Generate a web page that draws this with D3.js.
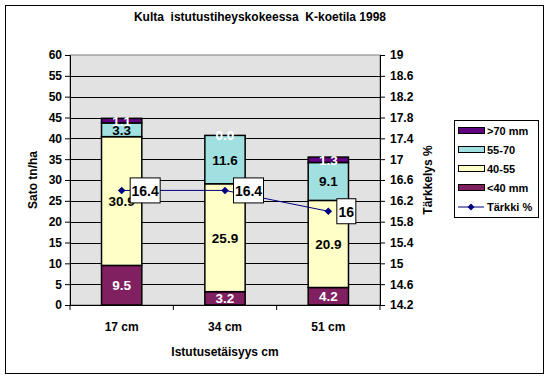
<!DOCTYPE html>
<html>
<head>
<meta charset="utf-8">
<script src="https://cdn.jsdelivr.net/npm/d3@7"></script>
<style>
  body { margin: 0; background: #fff; }
  text { font-family: Arial, "Liberation Sans", sans-serif; font-weight: bold; }
</style>
</head>
<body>
<div id="chart"></div>
<script>
// data
var spacings = ["17 cm", "34 cm", "51 cm"];
var lt40 = [9.5, 3.2, 4.2];
var s40_55 = [30.9, 25.9, 20.9];
var s55_70 = [3.3, 11.6, 9.1];
var gt70 = [1.1, 0.0, 1.3];
var starch = [16.4, 16.4, 16];
var leftTicks = [0, 5, 10, 15, 20, 25, 30, 35, 40, 45, 50, 55, 60];
var rightTicks = [14.2, 14.6, 15, 15.4, 15.8, 16.2, 16.6, 17, 17.4, 17.8, 18.2, 18.6, 19];

var W = 549, H = 380;
var m = {left: 70, right: 169, top: 55, bottom: 75};
var pw = W - m.left - m.right, ph = H - m.top - m.bottom;

var series = [
  {key: "lt40", name: "<40 mm", color: "#802060", text: "#fff"},
  {key: "s40_55", name: "40-55", color: "#ffffc8", text: "#000"},
  {key: "s55_70", name: "55-70", color: "#a0e0e0", text: "#000"},
  {key: "gt70", name: ">70 mm", color: "#600080", text: "#fff"}
];
var rows = spacings.map(function(c, i) {
  return {cat: c, lt40: lt40[i], s40_55: s40_55[i], s55_70: s55_70[i], gt70: gt70[i]};
});

var svg = d3.select("#chart").append("svg").attr("width", W).attr("height", H);
svg.append("rect").attr("x", 5.5).attr("y", 5.5).attr("width", 538).attr("height", 368)
  .attr("fill", "#fff").attr("stroke", "#000");

svg.append("text").attr("x", 260).attr("y", 21).attr("text-anchor", "middle")
  .style("font-size", "12px").style("white-space", "pre")
  .text("Kulta  istutustiheyskokeessa  K-koetila 1998");

var g = svg.append("g").attr("transform", "translate(" + m.left + "," + m.top + ")");

var x = d3.scaleBand().domain(spacings).range([0, pw]).paddingInner(0.61).paddingOuter(0.305);
var xb = d3.scaleBand().domain(spacings).range([0, pw]);
var y = d3.scaleLinear().domain([0, 60]).range([ph, 0]);
var y2 = d3.scaleLinear().domain([14.2, 19]).range([ph, 0]);

g.append("rect").attr("width", pw).attr("height", ph).attr("fill", "#e2e2e2")
  .attr("stroke", "#808080");

g.selectAll(".grid").data(leftTicks.slice(1, -1)).enter().append("line")
  .attr("x1", 0).attr("x2", pw)
  .attr("y1", function(d) { return Math.round(y(d)) + 0.5; })
  .attr("y2", function(d) { return Math.round(y(d)) + 0.5; })
  .attr("stroke", "#000");

// stacked bars
var stack = d3.stack().keys(series.map(function(s) { return s.key; }));
var layers = stack(rows);
layers.forEach(function(layer, li) {
  var s = series[li];
  g.selectAll(".seg" + li).data(layer).enter().append("rect")
    .attr("x", function(d) { return x(d.data.cat); })
    .attr("y", function(d) { return y(d[1]); })
    .attr("width", x.bandwidth())
    .attr("height", function(d) { return y(d[0]) - y(d[1]); })
    .attr("fill", s.color).attr("stroke", "#000").attr("stroke-width", 1.5);
});
layers.forEach(function(layer, li) {
  var s = series[li];
  g.selectAll(".lab" + li).data(layer).enter().append("text")
    .attr("x", function(d) { return x(d.data.cat) + x.bandwidth() / 2; })
    .attr("y", function(d) { return y((d[0] + d[1]) / 2) + 5; })
    .attr("text-anchor", "middle").style("font-size", "13.5px")
    .attr("fill", s.text)
    .text(function(d) { return d3.format(".1f")(d[1] - d[0]); });
});

// axes
var yAxis = g.append("g").call(d3.axisLeft(y).tickValues(leftTicks).tickSize(5).tickPadding(3));
var yAxis2 = g.append("g").attr("transform", "translate(" + pw + ",0)")
  .call(d3.axisRight(y2).tickValues(rightTicks).tickSize(5).tickPadding(5).tickFormat(d3.format("")));
var xAxis = g.append("g").attr("transform", "translate(0," + ph + ")")
  .call(d3.axisBottom(xb).tickSize(0).tickPadding(17));
[yAxis, yAxis2, xAxis].forEach(function(a) {
  a.selectAll("path").attr("stroke", "#000");
  a.selectAll("line").attr("stroke", "#000");
  a.selectAll("text").attr("fill", "#000").style("font-size", "12px");
  a.attr("font-family", null);
});
xAxis.selectAll(".sep").data([0, 1, 2, 3]).enter().append("line")
  .attr("x1", function(d) { return d * xb.bandwidth(); })
  .attr("x2", function(d) { return d * xb.bandwidth(); })
  .attr("y1", 0).attr("y2", 5).attr("stroke", "#000");

// starch line
var line = d3.line()
  .x(function(d, i) { return x(spacings[i]) + x.bandwidth() / 2; })
  .y(function(d) { return y2(d); });
g.append("path").datum(starch).attr("d", line).attr("fill", "none")
  .attr("stroke", "#000080").attr("stroke-width", 1);
var diamond = d3.symbol().type(d3.symbolDiamond2).size(36);
g.selectAll(".mk").data(starch).enter().append("path")
  .attr("d", diamond).attr("fill", "#000080")
  .attr("transform", function(d, i) {
    return "translate(" + (x(spacings[i]) + x.bandwidth() / 2) + "," + y2(d) + ")";
  });
var lbl = g.selectAll(".sl").data(starch).enter().append("g")
  .attr("transform", function(d, i) {
    return "translate(" + (x(spacings[i]) + x.bandwidth() / 2 + 8) + "," + y2(d) + ")";
  });
lbl.append("rect")
  .attr("x", 0.5).attr("y", -12.5)
  .attr("width", function(d) { return String(d).length > 2 ? 30 : 19; })
  .attr("height", 25).attr("fill", "#fff").attr("stroke", "#000");
lbl.append("text")
  .attr("x", function(d) { return String(d).length > 2 ? 15.5 : 10; })
  .attr("y", 5.5).attr("text-anchor", "middle").style("font-size", "14px")
  .text(function(d) { return d; });

// axis titles
svg.append("text").attr("transform", "translate(37,180) rotate(-90)")
  .attr("text-anchor", "middle").style("font-size", "12px").text("Sato tn/ha");
svg.append("text").attr("transform", "translate(432,180) rotate(-90)")
  .attr("text-anchor", "middle").style("font-size", "12px").text("Tärkkelys %");
svg.append("text").attr("x", 225).attr("y", 356)
  .attr("text-anchor", "middle").style("font-size", "12px").text("Istutusetäisyys cm");

// legend
var leg = svg.append("g").attr("transform", "translate(454,120)");
leg.append("rect").attr("x", 0.5).attr("y", 0.5).attr("width", 84).attr("height", 97)
  .attr("fill", "#fff").attr("stroke", "#000");
var legItems = series.slice().reverse();
legItems.forEach(function(s, i) {
  var cy = 11 + i * 19;
  leg.append("rect").attr("x", 4.5).attr("y", cy - 3.5).attr("width", 26).attr("height", 6)
    .attr("fill", s.color).attr("stroke", "#000");
  leg.append("text").attr("x", 33).attr("y", cy + 4).style("font-size", "11px").text(s.name);
});
var ly = 11 + 4 * 19;
leg.append("line").attr("x1", 4).attr("x2", 30).attr("y1", ly).attr("y2", ly).attr("stroke", "#000080");
leg.append("path").attr("d", d3.symbol().type(d3.symbolDiamond2).size(30)).attr("fill", "#000080")
  .attr("transform", "translate(17," + ly + ")");
leg.append("text").attr("x", 33).attr("y", ly + 4).style("font-size", "11px").text("Tärkki %");
</script>
</body>
</html>
